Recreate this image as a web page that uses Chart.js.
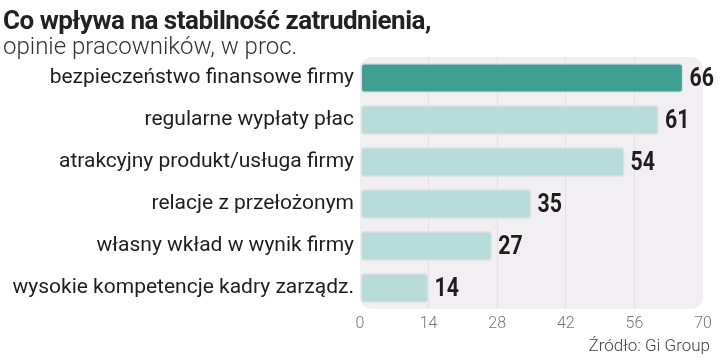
<!DOCTYPE html>
<html>
<head>
<meta charset="utf-8">
<script src="https://cdn.jsdelivr.net/npm/chart.js@4"></script>
<style>
    body { margin: 0; background: #fff; }
    #wrap { position: relative; width: 720px; height: 362px; overflow: hidden; }
    #title { position: absolute; left: 3px; top: 5px; font: bold 26px "Roboto", sans-serif; color: #222; letter-spacing: -0.5px; }
    #subtitle { position: absolute; left: 3px; top: 32px; font: 300 24px "Roboto", sans-serif; color: #333; }
    #source { position: absolute; right: 10px; top: 335px; font: 300 17px "Roboto", sans-serif; color: #444; }
    canvas { position: absolute; left: 0; top: 0; }
</style>
</head>
<body>
<div id="wrap">
    <canvas id="chart" width="720" height="362"></canvas>
    <div id="title">Co wpływa na stabilność zatrudnienia,</div>
    <div id="subtitle">opinie pracowników, w proc.</div>
    <div id="source">Źródło: Gi Group</div>
</div>
<script>
// Data
const categories = [
    'bezpieczeństwo finansowe firmy',
    'regularne wypłaty płac',
    'atrakcyjny produkt/usługa firmy',
    'relacje z przełożonym',
    'własny wkład w wynik firmy',
    'wysokie kompetencje kadry zarządz.'
];
const values = [66, 61, 54, 35, 27, 14];
const xTicks = [0, 14, 28, 42, 56, 70];

const barColors = values.map((v, i) => i === 0 ? '#409f92' : '#b8dcda');

// Rounded grey panel behind the bars
const panelBg = {
    id: 'panelBg',
    beforeDraw(chart) {
        const { ctx, chartArea: a } = chart;
        ctx.save();
        ctx.fillStyle = '#f2eff2';
        ctx.beginPath();
        ctx.roundRect(a.left, a.top, a.right - a.left, a.bottom - a.top, 12);
        ctx.fill();
        ctx.restore();
    }
};

// Bold numbers at the end of each bar (a bit condensed, like the original)
const valueLabels = {
    id: 'valueLabels',
    afterDatasetsDraw(chart) {
        const { ctx } = chart;
        const meta = chart.getDatasetMeta(0);
        const sx = 0.82;
        ctx.save();
        ctx.font = 'bold 26px "Roboto", sans-serif';
        ctx.fillStyle = '#1e1e1e';
        ctx.textBaseline = 'middle';
        meta.data.forEach((bar, i) => {
            ctx.save();
            ctx.translate(bar.x + 6, bar.y + 1);
            ctx.scale(sx, 1);
            ctx.fillText(values[i], 0, 0);
            ctx.restore();
        });
        ctx.restore();
    }
};

new Chart(document.getElementById('chart'), {
    type: 'bar',
    data: {
        labels: categories,
        datasets: [{
            data: values,
            backgroundColor: barColors,
            borderColor: '#e2e2e2',
            borderWidth: 1.5,
            borderRadius: 4,
            borderSkipped: false,
            categoryPercentage: 0.72,
            barPercentage: 1
        }]
    },
    options: {
        indexAxis: 'y',
        responsive: false,
        animation: false,
        layout: { padding: { top: 57, right: 17, bottom: 0, left: 0 } },
        plugins: {
            legend: { display: false },
            tooltip: { enabled: false }
        },
        scales: {
            x: {
                min: 0,
                max: 70,
                afterBuildTicks(scale) {
                    scale.ticks = xTicks.map(v => ({ value: v }));
                },
                afterFit(scale) { scale.height = 53; },
                border: { display: false },
                grid: {
                    color: ctx => (ctx.tick && (ctx.tick.value === 0 || ctx.tick.value === 70)) ? 'rgba(0,0,0,0)' : '#e3dfe3',
                    lineWidth: 1,
                    drawTicks: false
                },
                ticks: {
                    padding: 5,
                    color: '#777',
                    font: { family: 'Roboto', weight: '300', size: 16 }
                }
            },
            y: {
                afterFit(scale) { scale.width = 360; },
                border: { display: false },
                grid: { display: false, drawTicks: false },
                ticks: {
                    padding: 6,
                    color: '#1e1e1e',
                    font: { family: 'Roboto', size: 21 }
                }
            }
        }
    },
    plugins: [panelBg, valueLabels]
});
</script>
</body>
</html>
